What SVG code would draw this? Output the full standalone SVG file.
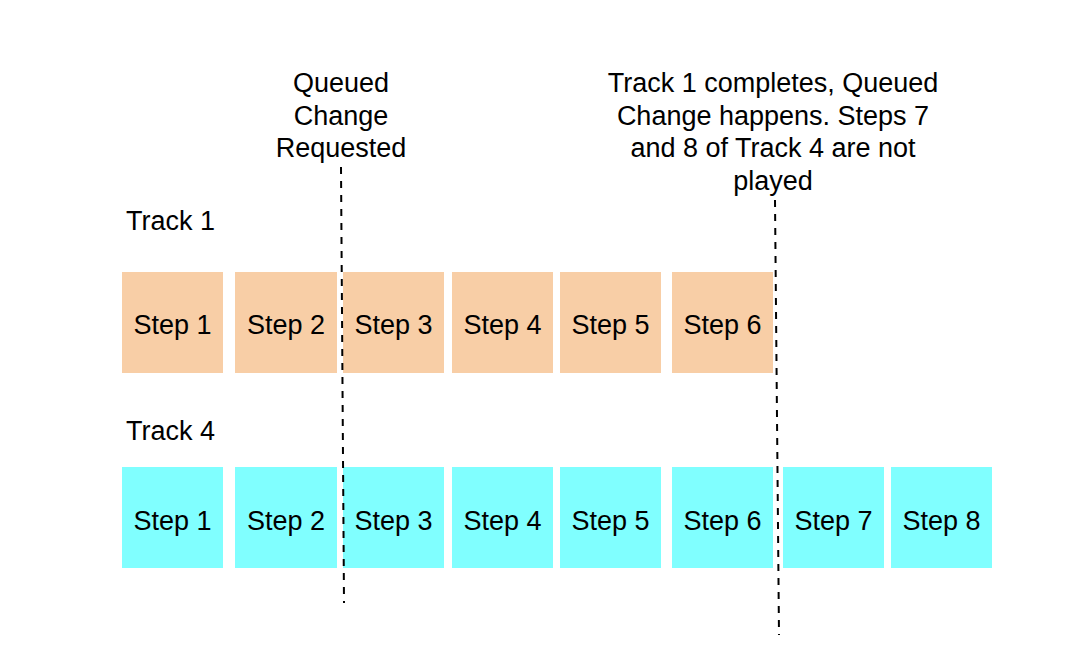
<svg xmlns="http://www.w3.org/2000/svg" width="1066" height="654" viewBox="0 0 1066 654">
<style>
text{font-family:"Liberation Sans",Arial,sans-serif;font-size:27px;fill:#000}
.c{text-anchor:middle}
.o{fill:#F8CEA6}
.b{fill:#80FFFF}
.d{stroke:#000;stroke-width:2;stroke-dasharray:7 7;fill:none}
</style>
<rect width="1066" height="654" fill="#fff"/>
<text x="126" y="230">Track 1</text>
<text x="126" y="440">Track 4</text>
<g id="t1s1"><rect class="o" x="122" y="272" width="101" height="101"/><text class="c" x="172.5" y="334">Step 1</text></g>
<g id="t1s2"><rect class="o" x="235" y="272" width="102" height="101"/><text class="c" x="286" y="334">Step 2</text></g>
<g id="t1s3"><rect class="o" x="343" y="272" width="101" height="101"/><text class="c" x="393.5" y="334">Step 3</text></g>
<g id="t1s4"><rect class="o" x="452" y="272" width="101" height="101"/><text class="c" x="502.5" y="334">Step 4</text></g>
<g id="t1s5"><rect class="o" x="560" y="272" width="101" height="101"/><text class="c" x="610.5" y="334">Step 5</text></g>
<g id="t1s6"><rect class="o" x="672" y="272" width="101" height="101"/><text class="c" x="722.5" y="334">Step 6</text></g>
<g id="t4s1"><rect class="b" x="122" y="467" width="101" height="101"/><text class="c" x="172.5" y="530">Step 1</text></g>
<g id="t4s2"><rect class="b" x="235" y="467" width="102" height="101"/><text class="c" x="286" y="530">Step 2</text></g>
<g id="t4s3"><rect class="b" x="343" y="467" width="101" height="101"/><text class="c" x="393.5" y="530">Step 3</text></g>
<g id="t4s4"><rect class="b" x="452" y="467" width="101" height="101"/><text class="c" x="502.5" y="530">Step 4</text></g>
<g id="t4s5"><rect class="b" x="560" y="467" width="101" height="101"/><text class="c" x="610.5" y="530">Step 5</text></g>
<g id="t4s6"><rect class="b" x="672" y="467" width="101" height="101"/><text class="c" x="722.5" y="530">Step 6</text></g>
<g id="t4s7"><rect class="b" x="783" y="467" width="101" height="101"/><text class="c" x="833.5" y="530">Step 7</text></g>
<g id="t4s8"><rect class="b" x="891" y="467" width="101" height="101"/><text class="c" x="941.5" y="530">Step 8</text></g>
<g id="connectors">
<line class="d" x1="341" y1="167" x2="344" y2="603"/>
<line class="d" x1="775" y1="200" x2="779" y2="635"/>
</g>
<g id="label1"><text class="c"><tspan x="341" y="92">Queued</tspan><tspan x="341" y="125">Change</tspan><tspan x="341" y="157">Requested</tspan></text></g>
<g id="label2"><text class="c"><tspan x="773" y="92">Track 1 completes, Queued</tspan><tspan x="773" y="125">Change happens. Steps 7</tspan><tspan x="773" y="157">and 8 of Track 4 are not</tspan><tspan x="773" y="190">played</tspan></text></g>
</svg>
